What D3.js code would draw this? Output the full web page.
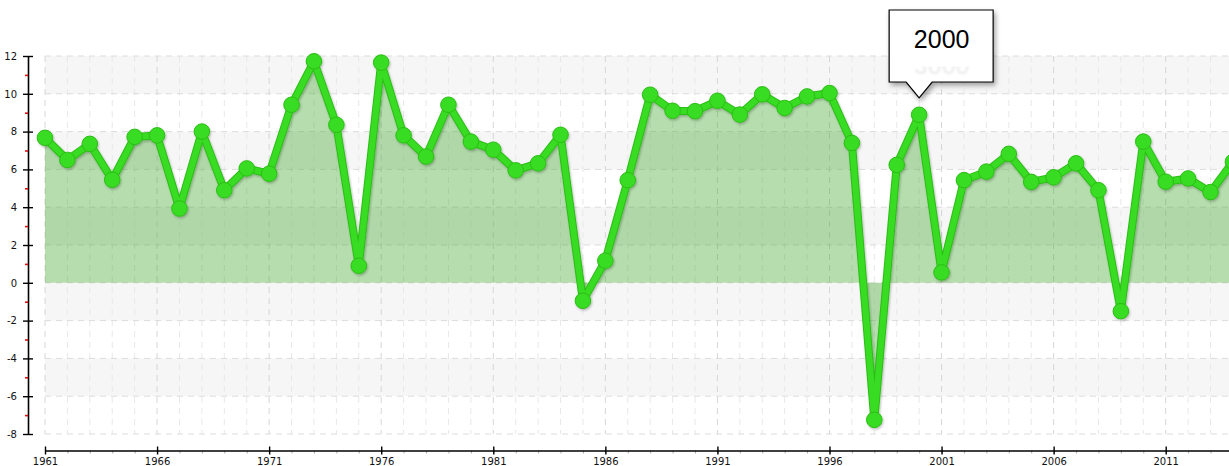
<!DOCTYPE html>
<html lang="en">
<head>
	<meta charset="UTF-8">
	<title>Annual values 1961-2014</title>
	<script src="https://cdn.jsdelivr.net/npm/d3@7"></script>
	<style>
		body{
			margin: 0px;
			background: #fff;
		}
		svg{
			display: block;
		}
		.tick text{
			font-family: "DejaVu Sans", sans-serif;
			font-size: 10px;
			fill: #111;
		}
	</style>
</head>
<body>
	<svg></svg>
	<script>
		// data
		var years = d3.range(1961, 2015);
		var values = [7.67, 6.5, 7.35, 5.45, 7.72, 7.8, 3.93, 8.0, 4.9, 6.05,
			5.77, 9.42, 11.72, 8.36, 0.9, 11.65, 7.8, 6.68, 9.42, 7.47,
			7.04, 5.95, 6.32, 7.83, -0.95, 1.17, 5.43, 9.95, 9.1, 9.08,
			9.63, 8.9, 9.97, 9.25, 9.86, 10.04, 7.4, -7.25, 6.24, 8.89,
			0.55, 5.43, 5.88, 6.82, 5.34, 5.58, 6.32, 4.9, -1.5, 7.47,
			5.35, 5.52, 4.8, 6.4];
		var yMajor = [-8, -6, -4, -2, 0, 2, 4, 6, 8, 10, 12];
		var yMinor = [-7, -5, -3, -1, 1, 3, 5, 7, 9, 11];
		var bands = [[10, 12], [6, 8], [2, 4], [-2, 0], [-6, -4]];
		var xMajor = [1961, 1966, 1971, 1976, 1981, 1986, 1991, 1996, 2001, 2006, 2011];
		var callout = {label: "2000", year: 2000};

		var w = 1229,
			h = 466,
			svg = d3.select("svg").attr("width", w).attr("height", h);

		var x = d3.scaleLinear().domain([1961, 2014]).range([45, 45 + 53 * 22.414]);
		var y = d3.scaleLinear().domain([-8, 12]).range([434, 56]);

		var defs = svg.append("defs");
		var sh = defs.append("filter").attr("id", "shadow")
			.attr("x", "-20%").attr("y", "-20%").attr("width", "140%").attr("height", "140%");
		sh.append("feDropShadow").attr("dx", 1).attr("dy", 1.5).attr("stdDeviation", 1.2)
			.attr("flood-color", "#000").attr("flood-opacity", 0.25);
		var sh2 = defs.append("filter").attr("id", "boxshadow")
			.attr("x", "-20%").attr("y", "-20%").attr("width", "150%").attr("height", "150%");
		sh2.append("feDropShadow").attr("dx", 2).attr("dy", 3).attr("stdDeviation", 2.5)
			.attr("flood-color", "#000").attr("flood-opacity", 0.35);
		var blur = defs.append("filter").attr("id", "blur");
		blur.append("feGaussianBlur").attr("stdDeviation", 1.2);

		// background bands
		svg.append("g").selectAll("rect")
			.data(bands)
			.enter().append("rect")
			.attr("x", x(1961))
			.attr("width", w - x(1961))
			.attr("y", d => y(d[1]))
			.attr("height", d => y(d[0]) - y(d[1]))
			.attr("fill", "#f6f6f6");

		// grid
		var grid = svg.append("g");
		grid.selectAll("line.v")
			.data(years)
			.enter().append("line")
			.attr("x1", d => x(d)).attr("x2", d => x(d))
			.attr("y1", y(12)).attr("y2", y(-8))
			.attr("stroke", d => (d - 1961) % 5 == 0 ? "#d6d6d6" : "#e8e8e8")
			.attr("stroke-dasharray", "6,5");
		grid.selectAll("line.h")
			.data(yMajor)
			.enter().append("line")
			.attr("x1", x(1961)).attr("x2", w)
			.attr("y1", d => y(d)).attr("y2", d => y(d))
			.attr("stroke", "#dcdcdc")
			.attr("stroke-dasharray", "6,5");

		// area to zero
		var area = d3.area()
			.x((d, i) => x(years[i]))
			.y0(y(0))
			.y1(d => y(d));
		svg.append("path")
			.attr("d", area(values))
			.attr("fill", "rgba(70,170,50,0.4)");

		// line + points
		var line = d3.line()
			.x((d, i) => x(years[i]))
			.y(d => y(d));
		var g = svg.append("g").attr("filter", "url(#shadow)");
		g.append("path")
			.attr("d", line(values))
			.attr("fill", "none")
			.attr("stroke", "#2cbd18")
			.attr("stroke-width", 8)
			.attr("stroke-linejoin", "round");
		g.append("path")
			.attr("d", line(values))
			.attr("fill", "none")
			.attr("stroke", "#38dc20")
			.attr("stroke-width", 6)
			.attr("stroke-linejoin", "round");
		g.selectAll("circle")
			.data(values)
			.enter().append("circle")
			.attr("cx", (d, i) => x(years[i]))
			.attr("cy", d => y(d))
			.attr("r", 7.8)
			.attr("fill", "#38dc20")
			.attr("stroke", "#2cbd18")
			.attr("stroke-width", 1);

		// y axis
		var yAxis = svg.append("g")
			.attr("transform", "translate(28,0)")
			.call(d3.axisLeft(y).tickValues(yMajor).tickSize(5).tickSizeOuter(0).tickPadding(6));
		yAxis.select(".domain").attr("stroke", "#000").attr("stroke-width", 1.6);
		yAxis.selectAll(".tick line").attr("x1", 5).attr("stroke", "#000").attr("stroke-width", 1.4);
		yAxis.selectAll(".tick text").text(d => d < 0 ? "-" + Math.abs(d) : d);

		var yAxisMinor = svg.append("g")
			.attr("transform", "translate(28,0)")
			.call(d3.axisLeft(y).tickValues(yMinor).tickSize(3).tickFormat(""));
		yAxisMinor.select(".domain").remove();
		yAxisMinor.selectAll(".tick line").attr("stroke", "#e01010").attr("stroke-width", 1.6);

		// x axis
		var xAxisMinor = svg.append("g")
			.attr("transform", "translate(0,450.5)")
			.call(d3.axisBottom(x).tickValues(years).tickSize(3).tickFormat(""));
		xAxisMinor.select(".domain").remove();
		xAxisMinor.selectAll(".tick line").attr("stroke", "#aaa");

		var xAxis = svg.append("g")
			.attr("transform", "translate(0,450.5)")
			.call(d3.axisBottom(x).tickValues(xMajor).tickFormat(d3.format("d")).tickSize(4).tickSizeOuter(0));
		xAxis.select(".domain").attr("stroke", "#000").attr("stroke-width", 1.6);
		xAxis.selectAll(".tick line").attr("y1", -4).attr("stroke", "#000").attr("stroke-width", 1.4);
		xAxis.selectAll(".tick text").attr("y", 7).attr("dy", "0.71em");

		// callout box
		var px = x(callout.year), py = y(values[years.indexOf(callout.year)]);
		var bx0 = px - 30, bx1 = px + 74, by0 = 10, by1 = 82;
		var tip = svg.append("g");
		tip.append("path")
			.attr("d", "M" + bx0 + "," + by0 + "H" + bx1 + "V" + by1 + "H" + (px + 13) +
				"L" + px + "," + (py - 17) + "L" + (px - 13) + "," + by1 + "H" + bx0 + "Z")
			.attr("fill", "#fff")
			.attr("stroke", "#000")
			.attr("stroke-width", 1.2)
			.attr("filter", "url(#boxshadow)");
		tip.append("text")
			.attr("x", (bx0 + bx1) / 2 + 0.5)
			.attr("y", 48)
			.attr("text-anchor", "middle")
			.attr("font-family", "'Liberation Sans', sans-serif")
			.attr("font-size", 25)
			.attr("fill", "#000")
			.text(callout.label);
		tip.append("text")
			.attr("x", (bx0 + bx1) / 2 + 0.5)
			.attr("y", -56)
			.attr("transform", "scale(1,-1)")
			.attr("text-anchor", "middle")
			.attr("font-family", "'Liberation Sans', sans-serif")
			.attr("font-size", 25)
			.attr("fill", "#ccc")
			.attr("opacity", 0.4)
			.attr("filter", "url(#blur)")
			.attr("clip-path", "inset(0 0 55% 0)")
			.text(callout.label);
	</script>
</body>
</html>
